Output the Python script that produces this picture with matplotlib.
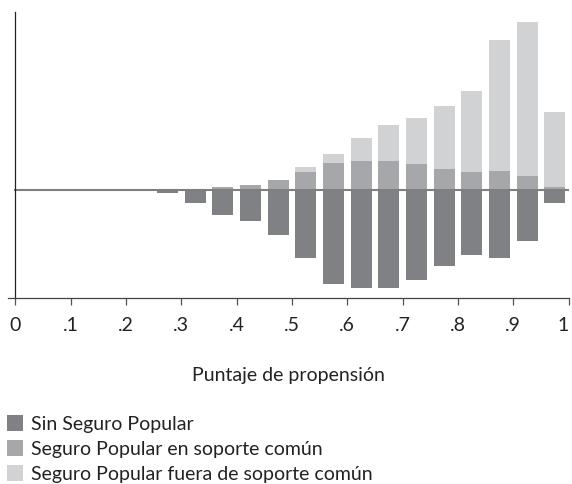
import matplotlib
matplotlib.use('Agg')
import matplotlib.pyplot as plt
from matplotlib.patches import Patch

plt.rcParams['font.family'] = ['Lato', 'DejaVu Sans']

# centros de los intervalos del puntaje de propension (ancho 0.05)
centros = [0.025, 0.075, 0.125, 0.175, 0.225, 0.275, 0.325, 0.375, 0.425, 0.475,
           0.525, 0.575, 0.625, 0.675, 0.725, 0.775, 0.825, 0.875, 0.925, 0.975]
sin_seguro = [0, 0, 0, 0, 0.5, 2.7, 12.7, 25, 31, 45,
              68, 94, 98, 98, 90, 76, 65, 68, 51, 13]
seguro_en_soporte = [0, 0, 0, 0, 0.5, 0.5, 0.5, 3, 5, 10,
                     18, 27, 29, 29, 26, 21, 18, 19, 14, 3]
seguro_fuera_soporte = [0, 0, 0, 0, 0, 0, 0, 0, 0, 0,
                        5, 9, 23, 36, 46, 63, 81, 131, 154, 75]
etiquetas_x = ['0', '.1', '.2', '.3', '.4', '.5', '.6', '.7', '.8', '.9', '1']
etiquetas_leyenda = ['Sin Seguro Popular',
                     'Seguro Popular en soporte común',
                     'Seguro Popular fuera de soporte común']

color_sin = '#808185'
color_en = '#a6a7aa'
color_fuera = '#d1d2d4'

fig = plt.figure(figsize=(5.72, 4.84), dpi=100)
ax = fig.add_axes([0.0142, 0.385, 0.98, 0.5908])

ancho = 0.038
negativos = [-v for v in sin_seguro]
ax.bar(centros, negativos, width=ancho, color=color_sin, linewidth=0)
ax.bar(centros, seguro_en_soporte, width=ancho, color=color_en, linewidth=0)
ax.bar(centros, seguro_fuera_soporte, width=ancho, bottom=seguro_en_soporte,
       color=color_fuera, linewidth=0)
ax.axhline(0, xmin=0.013, color='#7f7f7f', linewidth=1.5)

ax.set_xlim(-0.013, 1.0)
ax.set_ylim(-107.7, 178.3)
ax.spines['top'].set_visible(False)
ax.spines['right'].set_visible(False)
ax.spines['left'].set_position(('data', 0))
ax.spines['left'].set_color('#222222')
ax.spines['bottom'].set_color('#444444')
ax.spines['left'].set_linewidth(0.9)
ax.spines['bottom'].set_linewidth(0.9)
ax.set_yticks([])
ax.set_xticks([i / 10 for i in range(11)])
ax.set_xticklabels(etiquetas_x, fontsize=14, color='#222222')
ax.get_xticklabels()[-1].set_horizontalalignment('right')
ax.tick_params(axis='x', direction='out', length=5, width=0.9, color='#555555', pad=9)
ax.set_xlabel('Puntaje de propensión', fontsize=14, color='#222222', labelpad=24)

manijas = [Patch(facecolor=c, edgecolor='none') for c in (color_sin, color_en, color_fuera)]
fig.legend(manijas, etiquetas_leyenda, loc='upper left', bbox_to_anchor=(0.012, 0.142),
           frameon=False, fontsize=14, handlelength=0.85, handleheight=0.85,
           handletextpad=0.4, labelspacing=0.38, borderpad=0, borderaxespad=0,
           labelcolor='#222222')

plt.savefig('out.png', dpi=100)
plt.close()
